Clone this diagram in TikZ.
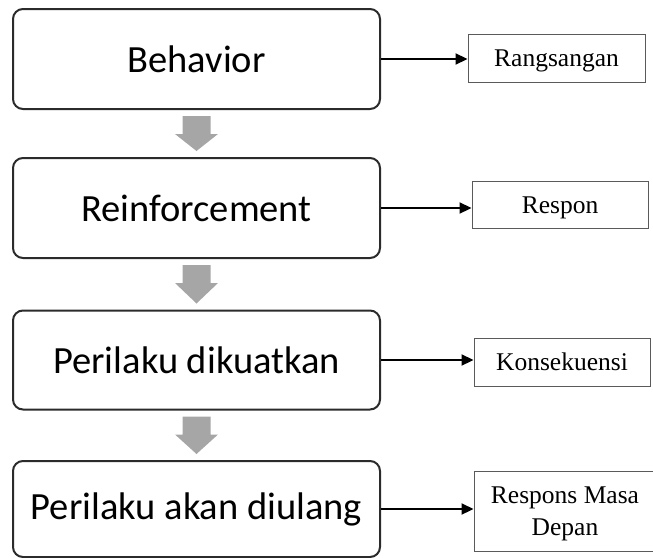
\documentclass[tikz,border=0pt]{standalone}
\usepackage{fontspec}
\setmainfont{Liberation Serif}
\newfontfamily\calib{Carlito}
\usetikzlibrary{arrows.meta,calc}
\definecolor{boxline}{HTML}{2B2B2B}
\definecolor{arrowgray}{HTML}{A6A6A6}
\definecolor{thinline}{HTML}{5A5A5A}
\begin{document}
\begin{tikzpicture}[x=1pt,y=-1pt,
  bigbox/.style={draw=boxline,line width=2pt,rounded corners=10pt,minimum width=367pt,inner sep=0pt,font=\calib\fontsize{38.5}{42}\selectfont},
  smallbox/.style={draw=thinline,line width=1pt,inner sep=0pt,font=\fontsize{25.5}{32}\selectfont},
  oneline/.style={text height=23pt,text depth=6pt},
  link/.style={line width=2.2pt,-{Triangle[length=12pt,width=11pt]}},
  flow/.style={fill=arrowgray}]
\useasboundingbox (0,0) rectangle (653,557);
\node[bigbox,minimum height=100pt] (b1) at (196.5,59) {Behavior};
\node[bigbox,minimum height=100pt] (b2) at (196.5,208) {Reinforcement};
\node[bigbox,minimum height=99pt] (b3) at (196.5,360) {Perilaku dikuatkan};
\node[bigbox,minimum height=96pt] (b4) at (196.5,509) {Perilaku akan diulang};
\node[smallbox,oneline,minimum width=177pt,minimum height=48pt] (s1) at (556.5,58) {Rangsangan};
\node[smallbox,oneline,minimum width=176pt,minimum height=47pt] (s2) at (560,204.5) {Respon};
\node[smallbox,oneline,minimum width=176pt,minimum height=48pt] (s3) at (562,362) {Konsekuensi};
\node[smallbox,align=center,text height=53.6pt,minimum width=182pt,minimum height=80pt] (s4) at (565,511) {Respons Masa\\Depan};
\foreach \i in {1,2,3,4}{
  \draw[link] (b\i.east) -- (b\i.east -| s\i.west);
}
\foreach \i/\j in {b1/b2,b2/b3,b3/b4}{
  \fill[flow] ($(\i.south)+(-14,6)$) -- ($(\i.south)+(14,6)$) -- ($(\i.south)+(14,24)$)
    -- ($(\i.south)+(21.5,24)$) -- ($(\j.north)+(0,-6)$) -- ($(\i.south)+(-21.5,24)$)
    -- ($(\i.south)+(-14,24)$) -- cycle;
}
\end{tikzpicture}
\end{document}
